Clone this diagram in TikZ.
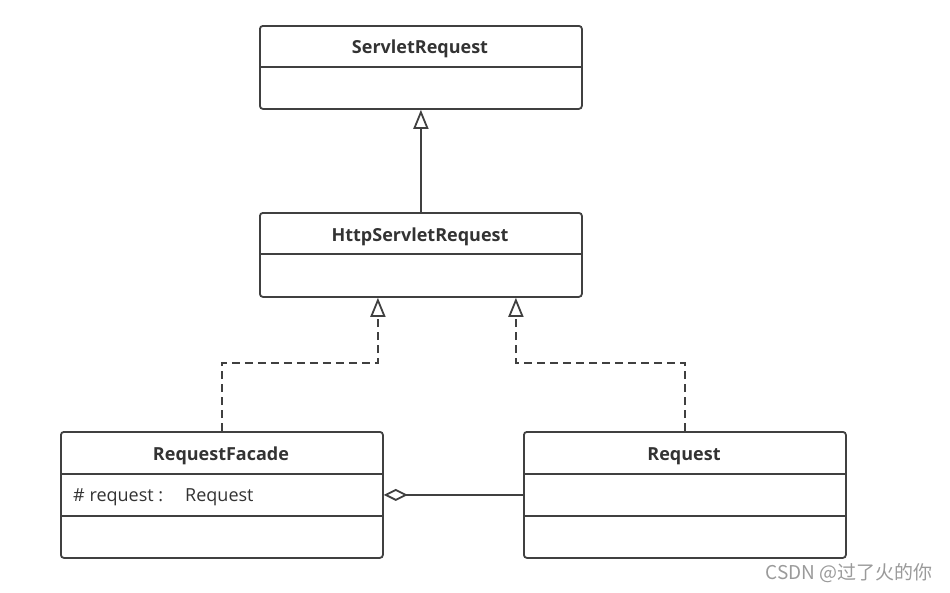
\documentclass[tikz,border=0pt]{standalone}
\usepackage{fontspec}
\setmainfont{Open Sans}
\newfontfamily\cjk{Noto Sans CJK SC}
\usetikzlibrary{arrows.meta}
\definecolor{umlline}{HTML}{404040}
\definecolor{umltext}{HTML}{333333}
\definecolor{marktext}{HTML}{9A9A9A}
\def\boxwidth{322}

\begin{document}
\begin{tikzpicture}[
    x=1pt, y=-1pt,
    line width=1.8pt, draw=umlline,
    cls/.style={draw=umlline, rounded corners=3pt, minimum width=\boxwidth pt, inner sep=0pt, anchor=north west},
    title/.style={font=\fontsize{18}{21}\selectfont\bfseries, text=umltext},
    attr/.style={font=\fontsize{18}{21}\selectfont, text=umltext, anchor=west},
    gen/.style={-{Triangle[open,length=19pt,width=15pt]}},
    real/.style={gen, dash pattern=on 8pt off 5pt},
    aggr/.style={{Diamond[open,length=24pt,width=12pt]}-}
  ]
  \useasboundingbox (0,0) rectangle (950,592);

  % Class boxes
  \node[cls, minimum height=83pt] (servlet) at (259,25) {};
  \node[cls, minimum height=84pt] (http) at (259,212) {};
  \node[cls, minimum height=126pt] (facade) at (60,431) {};
  \node[cls, minimum height=126pt] (request) at (523,431) {};

  % Class names
  \node[title] (servlet-t) at (420,49) {ServletRequest};
  \node[title] (http-t) at (420,237) {HttpServletRequest};
  \node[title] (facade-t) at (221,456) {RequestFacade};
  \node[title] (request-t) at (684,456) {Request};

  % Attributes
  \node[attr] (facade-a) at (69,497) {\# request :\hspace{22pt}Request};

  % Compartment lines
  \foreach \n/\y in {servlet/67, http/254, facade/474, facade/516, request/474, request/516} {
    \coordinate (cut) at (0,\y);
    \draw (\n.west |- cut) -- (\n.east |- cut);
  }

  % Inheritance and realization
  \draw[gen] (http.north) -- (servlet.south);
  \draw[real] (facade.north) -- ++(0,-68) -| ([xshift=-43pt]http.south);
  \draw[real] (request.north) -- ++(0,-68) -| ([xshift=95pt]http.south);

  % Aggregation
  \draw[aggr] (facade.east) -- (request.west);

  \node[font=\cjk\fontsize{19}{22}\selectfont, text=marktext, anchor=east] (mark) at (937,573) {CSDN @过了火的你};
\end{tikzpicture}
\end{document}
